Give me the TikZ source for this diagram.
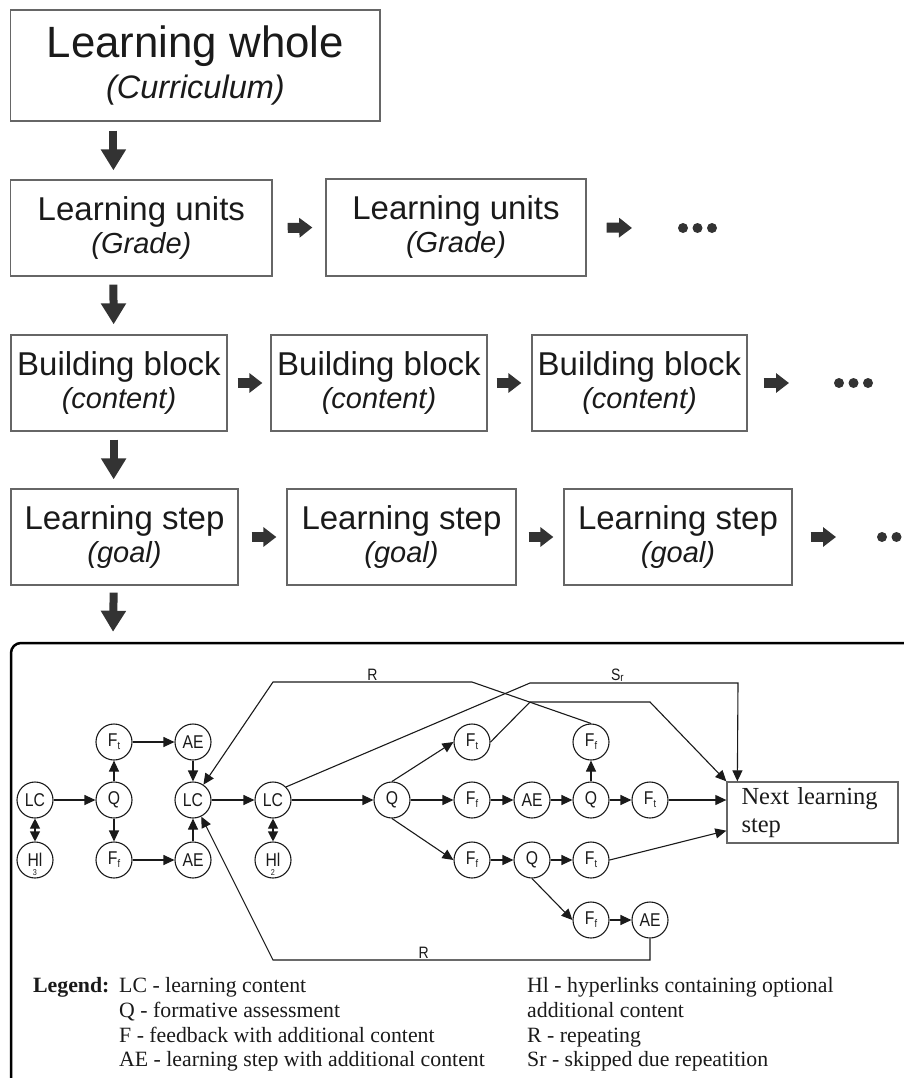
\documentclass[tikz,border=0pt]{standalone}
\usepackage{fontspec}
\setmainfont{Liberation Serif}
\setsansfont{Liberation Sans}
\newfontfamily\narrowsans[FakeStretch=0.85]{Liberation Sans}
\usetikzlibrary{arrows.meta,calc}
\definecolor{boxgray}{HTML}{666666}
\definecolor{arrowfill}{HTML}{333333}
\definecolor{ink}{HTML}{1A1A1A}
\newcommand\mysub[1]{\raisebox{-3pt}{\fontsize{11}{11}\selectfont #1}}
\newcommand\subtit[1]{{\fontsize{29}{32}\selectfont\itshape #1}}
\begin{document}
\begin{tikzpicture}[x=1pt,y=-1pt,
  box/.style={draw=boxgray, line width=1.3pt, inner sep=0pt, align=center, text=ink, font=\sffamily\fontsize{33}{33}\selectfont},
  bigdown/.style={draw=arrowfill, line width=8pt, -{Triangle[width=24pt,length=21pt]}},
  smallright/.style={draw=arrowfill, line width=10pt, -{Triangle[width=19pt,length=13pt]}},
  dotfill/.style={fill=arrowfill},
  circ/.style={circle, draw=ink, line width=1.1pt, minimum size=36pt, inner sep=0pt, text=ink, font=\narrowsans\fontsize{18.5}{18.5}\selectfont},
  gr/.style={draw=ink, line width=1.1pt, -{Triangle[length=11pt,width=10pt]}},
  grr/.style={draw=ink, line width=1.1pt, {Triangle[length=10pt,width=10pt]}-{Triangle[length=10pt,width=10pt]}},
  lab/.style={text=ink, font=\narrowsans\fontsize{16.5}{16.5}\selectfont, inner sep=0.5pt},
  leg/.style={text=ink, font=\fontsize{21.8}{24}\selectfont, inner sep=0pt, anchor=base west},
  framebox/.style={draw=black, line width=2.5pt, rounded corners=10pt, inner sep=0pt},
  hsub/.style={font=\narrowsans\fontsize{8.5}{8.5}\selectfont, text=ink, inner sep=0pt, label distance=-9.5pt}
]
\useasboundingbox (0,0) rectangle (904,1078);
\clip (0,0) rectangle (904,1078);

% frame
\node[framebox, minimum width=919pt, minimum height=457pt] (F) at (470.5,871.5) {};

% boxes
\node[box, minimum width=369.3pt, minimum height=111pt, font=\sffamily\fontsize{43.8}{41}\selectfont] (R1) at (195.4,65.5)
  {Learning whole\\{\fontsize{32.5}{41}\selectfont\itshape (Curriculum)}};
\node[box, minimum width=261.3pt, minimum height=96pt] (R2A) at (141.4,228) {Learning units\\\subtit{(Grade)}};
\node[box, minimum width=260pt, minimum height=97pt] (R2B) at (456,227.5) {Learning units\\\subtit{(Grade)}};
\node[box, minimum width=216pt, minimum height=96pt] (R3A) at (119,383) {Building block\\\subtit{(content)}};
\node[box, minimum width=216pt, minimum height=96pt] (R3B) at (379,383) {Building block\\\subtit{(content)}};
\node[box, minimum width=215pt, minimum height=96pt] (R3C) at (639.5,383) {Building block\\\subtit{(content)}};
\node[box, minimum width=227pt, minimum height=96pt] (R4A) at (124.5,537) {Learning step\\\subtit{(goal)}};
\node[box, minimum width=229pt, minimum height=96pt] (R4B) at (401.5,537) {Learning step\\\subtit{(goal)}};
\node[box, minimum width=228pt, minimum height=96pt] (R4C) at (678,537) {Learning step\\\subtit{(goal)}};

% down arrows
\draw[bigdown] ($(R1.south west)+(103.3,9)$) -- ($(R2A.north west)+(103.3,-9)$);
\draw[bigdown] ($(R2A.south west)+(103.3,8)$) -- ($(R3A.north west)+(103.3,-10)$);
\draw[bigdown] ($(R3A.south west)+(103.3,8)$) -- ($(R4A.north west)+(103.3,-9)$);
\draw[bigdown] ($(R4A.south west)+(103.3,7)$) -- ($(F.north west)+(103.3,-10)$);

% right arrows
\coordinate (D2) at (678,228);
\coordinate (D3) at (834,383);
\coordinate (D4) at (877,537);
\draw[smallright] ($(R2A.east)+(15,0)$) -- ($(R2B.west)+(-13,0)$);
\draw[smallright] ($(R2B.east)+(20,0)$) -- ($(D2)+(-46,0)$);
\draw[smallright] ($(R3A.east)+(10,0)$) -- ($(R3B.west)+(-8,0)$);
\draw[smallright] ($(R3B.east)+(9,0)$) -- ($(R3C.west)+(-10,0)$);
\draw[smallright] ($(R3C.east)+(16,0)$) -- ($(D3)+(-45,0)$);
\draw[smallright] ($(R4A.east)+(13,0)$) -- ($(R4B.west)+(-10,0)$);
\draw[smallright] ($(R4B.east)+(12,0)$) -- ($(R4C.west)+(-10,0)$);
\draw[smallright] ($(R4C.east)+(18,0)$) -- ($(D4)+(-41,0)$);

% dots
\foreach \d in {5,19.5,34} {
  \fill[dotfill] ($(D2)+(\d,0)$) circle (5pt);
  \fill[dotfill] ($(D3)+(\d,0)$) circle (5pt);
  \fill[dotfill] ($(D4)+(\d,0)$) circle (5pt);
}

% graph nodes
\node[circ] (LC1) at (35,800) {LC};
\node[circ, label={[hsub]below:3}] (HI3) at (35,860) {Hl};
\node[circ] (Q1) at (114,800) {Q};
\node[circ] (Ft1) at (114,742) {F\mysub{t}};
\node[circ] (Ff1) at (114,860) {F\mysub{f}};
\node[circ] (AE1) at (193,742) {AE};
\node[circ] (AE2) at (193,860) {AE};
\node[circ] (LC2) at (193,800) {LC};
\node[circ] (LC3) at (273,800) {LC};
\node[circ, label={[hsub]below:2}] (HI2) at (273,860) {Hl};
\node[circ] (Q2) at (392,800) {Q};
\node[circ] (Ft2) at (472,742) {F\mysub{t}};
\node[circ] (Ff2) at (472,800) {F\mysub{f}};
\node[circ] (AE3) at (532,800) {AE};
\node[circ] (Q3) at (591,800) {Q};
\node[circ] (Ff3) at (591,742) {F\mysub{f}};
\node[circ] (Ft3) at (650,800) {F\mysub{t}};
\node[circ] (Ff4) at (472,860) {F\mysub{f}};
\node[circ] (Q4) at (532,860) {Q};
\node[circ] (Ft4) at (591,860) {F\mysub{t}};
\node[circ] (Ff5) at (591,920) {F\mysub{f}};
\node[circ] (AE4) at (650,920) {AE};
\node[draw=boxgray, line width=1.3pt, minimum width=171pt, minimum height=61pt, text width=142pt,
      inner xsep=14.5pt, inner ysep=0pt, align=left, text=ink, font=\fontsize{24.5}{28}\selectfont]
      (Next) at (812.5,812.5) {Next learning\\step};

% graph edges
\draw[gr] (LC1) -- (Q1);
\draw[grr] (LC1) -- (HI3);
\draw[gr] (Q1) -- (Ft1);
\draw[gr] (Q1) -- (Ff1);
\draw[gr] (Ft1) -- (AE1);
\draw[gr] (Ff1) -- (AE2);
\draw[gr] (AE1) -- (LC2);
\draw[gr] (AE2) -- (LC2);
\draw[gr] (LC2) -- (LC3);
\draw[grr] (LC3) -- (HI2);
\draw[gr] (LC3) -- (Q2);
\draw[gr] (Q2.north) -- (Ft2.west);
\draw[gr] (Q2) -- (Ff2);
\draw[gr] (Q2.south) -- (Ff4.west);
\draw[gr] (Ff2) -- (AE3);
\draw[gr] (AE3) -- (Q3);
\draw[gr] (Q3) -- (Ff3);
\draw[gr] (Q3) -- (Ft3);
\draw[gr] (Ff4) -- (Q4);
\draw[gr] (Q4) -- (Ft4);
\draw[gr] (Q4.south) -- (Ff5.west);
\draw[gr] (Ff5) -- (AE4);
\draw[gr] (Ft3) -- (Ft3 -| Next.west);
\draw[gr] (Ft4.east) -- ($(Next.south west)+(0,-13)$);
\draw[gr] (Ft2.east) -- (530,702) -- (650,702) -- (Next.north west);
\draw[gr] (LC3.north east) -- (530,683) -- node[lab, above, pos=0.42] {S\raisebox{-1.5pt}{\fontsize{11.5}{11.5}\selectfont r}} (738,683) -- ($(Next.north west)+(11,0)$);
\draw[gr] (Ff3.north) -- (472,682) -- node[lab, above] {R} (273,682) -- (LC2);
\draw[gr] (AE4.south) -- (650,960) -- node[lab, above, pos=0.6] {R} (273,960) -- (LC2);

% legend
\node[leg] (legT) at (33,992) {\bfseries Legend:};
\node[leg] (l1) at (119,992) {LC - learning content};
\node[leg] (l2) at (119,1017) {Q - formative assessment};
\node[leg] (l3) at (119,1042) {F - feedback with additional content};
\node[leg] (l4) at (119,1066) {AE - learning step with additional content};
\node[leg] (l5) at (527,992) {Hl - hyperlinks containing optional};
\node[leg] (l6) at (527,1017) {additional content};
\node[leg] (l7) at (527,1042) {R - repeating};
\node[leg] (l8) at (527,1066) {Sr - skipped due repeatition};
\end{tikzpicture}
\end{document}
